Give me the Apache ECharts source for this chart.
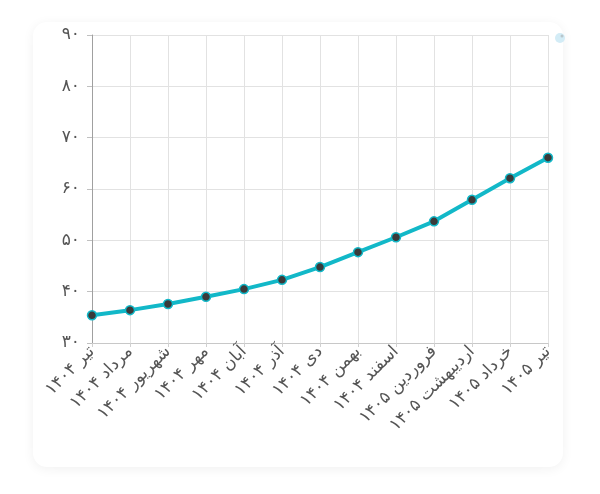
<!DOCTYPE html>
<html>
<head>
<meta charset="utf-8">
<script src="https://cdn.jsdelivr.net/npm/echarts@6/dist/echarts.min.js"></script>
<style>
  html, body { margin: 0; padding: 0; background: #fff; }
  #card {
    position: absolute; left: 33px; top: 22px; width: 530px; height: 445px;
    background: #fff; border-radius: 14px;
    box-shadow: 0 2px 12px rgba(0, 0, 0, 0.06);
  }
  #chart { width: 540px; height: 445px; }
</style>
</head>
<body>
<div id="card"><div id="chart"></div></div>
<script>
// Persian month labels (month + year)
const months = ["تیر", "مرداد", "شهریور", "مهر", "آبان", "آذر", "دی", "بهمن", "اسفند", "فروردین", "اردیبهشت", "خرداد", "تیر"];
const years = ["۱۴۰۴", "۱۴۰۴", "۱۴۰۴", "۱۴۰۴", "۱۴۰۴", "۱۴۰۴", "۱۴۰۴", "۱۴۰۴", "۱۴۰۴", "۱۴۰۵", "۱۴۰۵", "۱۴۰۵", "۱۴۰۵"];
const values = [35.4, 36.4, 37.6, 39.0, 40.5, 42.3, 44.8, 47.7, 50.6, 53.7, 57.9, 62.1, 66.1];
const yTicks = { 30: "۳۰", 40: "۴۰", 50: "۵۰", 60: "۶۰", 70: "۷۰", 80: "۸۰", 90: "۹۰" };

function initChart() {
  const chart = echarts.init(document.getElementById("chart"));
  const categories = months.map((m, i) => m + " " + years[i]);
  const option = {
    textStyle: { fontFamily: "DejaVu Sans" },
    grid: { left: 59, top: 13, width: 456, height: 308, containLabel: false },
    // small faded icon in the top-right corner
    graphic: [
      { type: 'circle', shape: { cx: 527, cy: 16, r: 5 }, style: { fill: '#d3ecf6' } },
      { type: 'circle', shape: { cx: 529, cy: 14, r: 1.5 }, style: { fill: '#b8c6cc' } }
    ],
    xAxis: {
      type: 'category',
      boundaryGap: false,
      data: categories,
      axisLine: { lineStyle: { color: '#c8c8c8' } },
      axisTick: { show: true, length: 4, lineStyle: { color: '#d0d0d0' } },
      splitLine: { show: true, lineStyle: { color: '#e2e2e2' } },
      axisLabel: {
        rotate: 45, interval: 0, color: '#555', fontSize: 17,
        margin: 6, fontFamily: "DejaVu Sans"
      }
    },
    yAxis: {
      type: 'value',
      min: 30, max: 90, interval: 10,
      axisLine: { show: true, lineStyle: { color: '#a0a0a0' } },
      axisTick: { show: true, length: 5, lineStyle: { color: '#c0c0c0' } },
      splitLine: { lineStyle: { color: '#e2e2e2' } },
      axisLabel: {
        color: '#555', fontSize: 17, margin: 12,
        formatter: v => yTicks[v]
      }
    },
    series: [
      {
        type: 'line',
        data: values,
        smooth: false,
        symbol: 'circle',
        symbolSize: 9,
        lineStyle: { color: '#12b8c8', width: 4 },
        itemStyle: { color: '#3a3a3a', borderColor: '#12b8c8', borderWidth: 1.5 }
      }
    ]
  };
  chart.setOption(option);
}

document.addEventListener("DOMContentLoaded", initChart);
</script>
</body>
</html>
